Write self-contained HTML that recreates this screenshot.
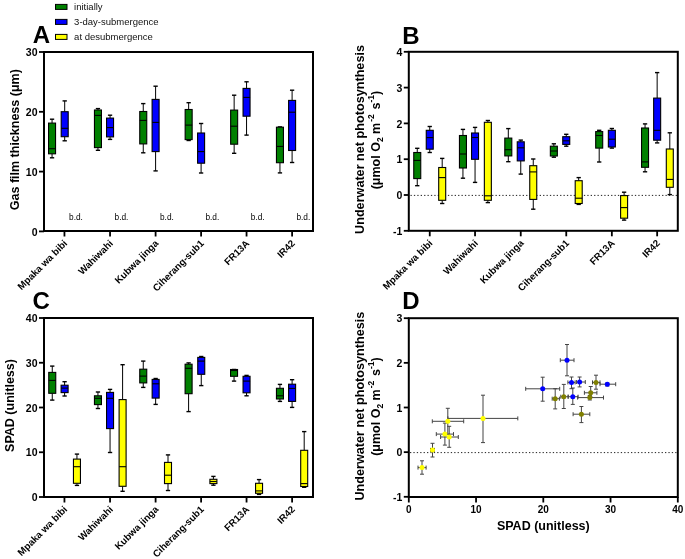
<!DOCTYPE html>
<html><head><meta charset="utf-8"><style>
html,body{margin:0;padding:0;background:#fff;}
svg{display:block;will-change:transform;}
text{font-family:"Liberation Sans", sans-serif;}
.ax{fill:none;stroke:#000;stroke-width:2;}
.tk{stroke:#000;stroke-width:1.8;}
.tl{font-size:10.5px;font-weight:bold;fill:#000;}
.xl{font-size:9.7px;font-weight:bold;fill:#000;}
.yl{font-size:12.5px;font-weight:bold;fill:#000;}
.pl{font-size:24px;font-weight:bold;fill:#000;}
.bd{font-size:8.3px;fill:#000;}
.lt{font-size:9.5px;fill:#111;}
.lg{stroke:#000;stroke-width:1;}
.wk{stroke:#000;stroke-width:1;}
.cap{stroke:#000;stroke-width:1.4;}
.bx{stroke:#000;stroke-width:1.1;}
.med{stroke:#000;stroke-width:1.1;}
.dot{stroke:#222;stroke-width:1;stroke-dasharray:1.3 2.1;}
.eb{fill:none;stroke:#444;stroke-width:1;}
.sub,.sup{font-size:8.5px;}
</style></head>
<body><svg width="685" height="559" viewBox="0 0 685 559">
<rect width="685" height="559" fill="#fff"/>
<g>
<rect x="44" y="52" width="269" height="179" class="ax"/>
<line x1="39" y1="52" x2="44" y2="52" class="tk"/>
<text x="37.5" y="56.1" class="tl" text-anchor="end">30</text>
<line x1="39" y1="111.8" x2="44" y2="111.8" class="tk"/>
<text x="37.5" y="115.9" class="tl" text-anchor="end">20</text>
<line x1="39" y1="171.6" x2="44" y2="171.6" class="tk"/>
<text x="37.5" y="175.7" class="tl" text-anchor="end">10</text>
<line x1="39" y1="231.4" x2="44" y2="231.4" class="tk"/>
<text x="37.5" y="235.5" class="tl" text-anchor="end">0</text>
<line x1="64.45" y1="231" x2="64.45" y2="236.5" class="tk"/>
<text transform="translate(67.95,244) rotate(-45)" class="xl" text-anchor="end">Mpaka wa bibi</text>
<line x1="110.05" y1="231" x2="110.05" y2="236.5" class="tk"/>
<text transform="translate(113.55,244) rotate(-45)" class="xl" text-anchor="end">Wahiwahi</text>
<line x1="155.6" y1="231" x2="155.6" y2="236.5" class="tk"/>
<text transform="translate(159.1,244) rotate(-45)" class="xl" text-anchor="end">Kubwa jinga</text>
<line x1="201.1" y1="231" x2="201.1" y2="236.5" class="tk"/>
<text transform="translate(204.6,244) rotate(-45)" class="xl" text-anchor="end">Ciherang-sub1</text>
<line x1="246.55" y1="231" x2="246.55" y2="236.5" class="tk"/>
<text transform="translate(250.05,244) rotate(-45)" class="xl" text-anchor="end">FR13A</text>
<line x1="292.1" y1="231" x2="292.1" y2="236.5" class="tk"/>
<text transform="translate(295.6,244) rotate(-45)" class="xl" text-anchor="end">IR42</text>
<line x1="52.05" y1="119.2" x2="52.05" y2="123.1" class="wk"/>
<line x1="52.05" y1="153.8" x2="52.05" y2="157.8" class="wk"/>
<line x1="49.9" y1="119.2" x2="54.2" y2="119.2" class="cap"/>
<line x1="49.9" y1="157.8" x2="54.2" y2="157.8" class="cap"/>
<rect x="48.55" y="123.1" width="7" height="30.7" fill="#008000" class="bx"/>
<line x1="48.55" y1="148.7" x2="55.55" y2="148.7" class="med"/>
<line x1="64.7" y1="100.9" x2="64.7" y2="111.7" class="wk"/>
<line x1="64.7" y1="136.7" x2="64.7" y2="140.8" class="wk"/>
<line x1="62.55" y1="100.9" x2="66.85" y2="100.9" class="cap"/>
<line x1="62.55" y1="140.8" x2="66.85" y2="140.8" class="cap"/>
<rect x="61.2" y="111.7" width="7" height="25" fill="#0000ff" class="bx"/>
<line x1="61.2" y1="128.3" x2="68.2" y2="128.3" class="med"/>
<line x1="97.95" y1="108.6" x2="97.95" y2="110" class="wk"/>
<line x1="97.95" y1="147.6" x2="97.95" y2="150.3" class="wk"/>
<line x1="95.8" y1="108.6" x2="100.1" y2="108.6" class="cap"/>
<line x1="95.8" y1="150.3" x2="100.1" y2="150.3" class="cap"/>
<rect x="94.45" y="110" width="7" height="37.6" fill="#008000" class="bx"/>
<line x1="94.45" y1="115.4" x2="101.45" y2="115.4" class="med"/>
<line x1="110.05" y1="115.2" x2="110.05" y2="118.1" class="wk"/>
<line x1="110.05" y1="136.9" x2="110.05" y2="139.4" class="wk"/>
<line x1="107.9" y1="115.2" x2="112.2" y2="115.2" class="cap"/>
<line x1="107.9" y1="139.4" x2="112.2" y2="139.4" class="cap"/>
<rect x="106.55" y="118.1" width="7" height="18.8" fill="#0000ff" class="bx"/>
<line x1="106.55" y1="127.6" x2="113.55" y2="127.6" class="med"/>
<line x1="143.25" y1="103.6" x2="143.25" y2="111.5" class="wk"/>
<line x1="143.25" y1="143.9" x2="143.25" y2="152.8" class="wk"/>
<line x1="141.1" y1="103.6" x2="145.4" y2="103.6" class="cap"/>
<line x1="141.1" y1="152.8" x2="145.4" y2="152.8" class="cap"/>
<rect x="139.75" y="111.5" width="7" height="32.4" fill="#008000" class="bx"/>
<line x1="139.75" y1="120.4" x2="146.75" y2="120.4" class="med"/>
<line x1="155.6" y1="86.2" x2="155.6" y2="99.4" class="wk"/>
<line x1="155.6" y1="151.6" x2="155.6" y2="170.9" class="wk"/>
<line x1="153.45" y1="86.2" x2="157.75" y2="86.2" class="cap"/>
<line x1="153.45" y1="170.9" x2="157.75" y2="170.9" class="cap"/>
<rect x="152.1" y="99.4" width="7" height="52.2" fill="#0000ff" class="bx"/>
<line x1="152.1" y1="122.4" x2="159.1" y2="122.4" class="med"/>
<line x1="188.65" y1="102.7" x2="188.65" y2="109.5" class="wk"/>
<line x1="188.65" y1="139.6" x2="188.65" y2="140.5" class="wk"/>
<line x1="186.5" y1="102.7" x2="190.8" y2="102.7" class="cap"/>
<line x1="186.5" y1="140.5" x2="190.8" y2="140.5" class="cap"/>
<rect x="185.15" y="109.5" width="7" height="30.1" fill="#008000" class="bx"/>
<line x1="185.15" y1="125.1" x2="192.15" y2="125.1" class="med"/>
<line x1="201.1" y1="123.5" x2="201.1" y2="133" class="wk"/>
<line x1="201.1" y1="163.2" x2="201.1" y2="173" class="wk"/>
<line x1="198.95" y1="123.5" x2="203.25" y2="123.5" class="cap"/>
<line x1="198.95" y1="173" x2="203.25" y2="173" class="cap"/>
<rect x="197.6" y="133" width="7" height="30.2" fill="#0000ff" class="bx"/>
<line x1="197.6" y1="151.6" x2="204.6" y2="151.6" class="med"/>
<line x1="234.15" y1="95.2" x2="234.15" y2="110.1" class="wk"/>
<line x1="234.15" y1="144.2" x2="234.15" y2="153.3" class="wk"/>
<line x1="232" y1="95.2" x2="236.3" y2="95.2" class="cap"/>
<line x1="232" y1="153.3" x2="236.3" y2="153.3" class="cap"/>
<rect x="230.65" y="110.1" width="7" height="34.1" fill="#008000" class="bx"/>
<line x1="230.65" y1="126.2" x2="237.65" y2="126.2" class="med"/>
<line x1="246.55" y1="81.8" x2="246.55" y2="88.4" class="wk"/>
<line x1="246.55" y1="116.2" x2="246.55" y2="135.1" class="wk"/>
<line x1="244.4" y1="81.8" x2="248.7" y2="81.8" class="cap"/>
<line x1="244.4" y1="135.1" x2="248.7" y2="135.1" class="cap"/>
<rect x="243.05" y="88.4" width="7" height="27.8" fill="#0000ff" class="bx"/>
<line x1="243.05" y1="97.4" x2="250.05" y2="97.4" class="med"/>
<line x1="279.95" y1="126.9" x2="279.95" y2="127.2" class="wk"/>
<line x1="279.95" y1="162.7" x2="279.95" y2="172.9" class="wk"/>
<line x1="277.8" y1="126.9" x2="282.1" y2="126.9" class="cap"/>
<line x1="277.8" y1="172.9" x2="282.1" y2="172.9" class="cap"/>
<rect x="276.45" y="127.2" width="7" height="35.5" fill="#008000" class="bx"/>
<line x1="276.45" y1="146.4" x2="283.45" y2="146.4" class="med"/>
<line x1="292.1" y1="90.2" x2="292.1" y2="100.4" class="wk"/>
<line x1="292.1" y1="150.5" x2="292.1" y2="162.5" class="wk"/>
<line x1="289.95" y1="90.2" x2="294.25" y2="90.2" class="cap"/>
<line x1="289.95" y1="162.5" x2="294.25" y2="162.5" class="cap"/>
<rect x="288.6" y="100.4" width="7" height="50.1" fill="#0000ff" class="bx"/>
<line x1="288.6" y1="112.2" x2="295.6" y2="112.2" class="med"/>
<text x="75.95" y="220" class="bd" text-anchor="middle">b.d.</text>
<text x="121.5" y="220" class="bd" text-anchor="middle">b.d.</text>
<text x="166.9" y="220" class="bd" text-anchor="middle">b.d.</text>
<text x="212.3" y="220" class="bd" text-anchor="middle">b.d.</text>
<text x="257.75" y="220" class="bd" text-anchor="middle">b.d.</text>
<text x="303.3" y="220" class="bd" text-anchor="middle">b.d.</text>
<text x="32.7" y="43.2" class="pl">A</text>
<text transform="translate(19.3,139.7) rotate(-90)" class="yl" text-anchor="middle">Gas film thickness (μm)</text>
</g>
<rect x="55.5" y="4.4" width="11.5" height="5" fill="#008000" class="lg"/>
<text x="74.1" y="9.8" class="lt">initially</text>
<rect x="55.5" y="19.4" width="11.5" height="5" fill="#0000ff" class="lg"/>
<text x="74.1" y="24.8" class="lt">3-day-submergence</text>
<rect x="55.5" y="34.4" width="11.5" height="5" fill="#ffff00" class="lg"/>
<text x="74.1" y="39.8" class="lt">at desubmergence</text>
<g>
<rect x="408.8" y="51.8" width="269" height="179" class="ax"/>
<line x1="403.8" y1="51.8" x2="408.8" y2="51.8" class="tk"/>
<text x="402.3" y="55.9" class="tl" text-anchor="end">4</text>
<line x1="403.8" y1="87.6" x2="408.8" y2="87.6" class="tk"/>
<text x="402.3" y="91.7" class="tl" text-anchor="end">3</text>
<line x1="403.8" y1="123.4" x2="408.8" y2="123.4" class="tk"/>
<text x="402.3" y="127.5" class="tl" text-anchor="end">2</text>
<line x1="403.8" y1="159.2" x2="408.8" y2="159.2" class="tk"/>
<text x="402.3" y="163.3" class="tl" text-anchor="end">1</text>
<line x1="403.8" y1="195" x2="408.8" y2="195" class="tk"/>
<text x="402.3" y="199.1" class="tl" text-anchor="end">0</text>
<line x1="403.8" y1="230.8" x2="408.8" y2="230.8" class="tk"/>
<text x="402.3" y="234.9" class="tl" text-anchor="end">-1</text>
<line x1="410.5" y1="195.4" x2="677" y2="195.4" class="dot"/>
<line x1="429.75" y1="230.8" x2="429.75" y2="236.3" class="tk"/>
<text transform="translate(433.25,243.8) rotate(-45)" class="xl" text-anchor="end">Mpaka wa bibi</text>
<line x1="475.05" y1="230.8" x2="475.05" y2="236.3" class="tk"/>
<text transform="translate(478.55,243.8) rotate(-45)" class="xl" text-anchor="end">Wahiwahi</text>
<line x1="520.75" y1="230.8" x2="520.75" y2="236.3" class="tk"/>
<text transform="translate(524.25,243.8) rotate(-45)" class="xl" text-anchor="end">Kubwa jinga</text>
<line x1="566.25" y1="230.8" x2="566.25" y2="236.3" class="tk"/>
<text transform="translate(569.75,243.8) rotate(-45)" class="xl" text-anchor="end">Ciherang-sub1</text>
<line x1="611.85" y1="230.8" x2="611.85" y2="236.3" class="tk"/>
<text transform="translate(615.35,243.8) rotate(-45)" class="xl" text-anchor="end">FR13A</text>
<line x1="657.15" y1="230.8" x2="657.15" y2="236.3" class="tk"/>
<text transform="translate(660.65,243.8) rotate(-45)" class="xl" text-anchor="end">IR42</text>
<line x1="417.25" y1="148.3" x2="417.25" y2="152.5" class="wk"/>
<line x1="417.25" y1="178.6" x2="417.25" y2="185.7" class="wk"/>
<line x1="415.1" y1="148.3" x2="419.4" y2="148.3" class="cap"/>
<line x1="415.1" y1="185.7" x2="419.4" y2="185.7" class="cap"/>
<rect x="413.75" y="152.5" width="7" height="26.1" fill="#008000" class="bx"/>
<line x1="413.75" y1="160.4" x2="420.75" y2="160.4" class="med"/>
<line x1="429.75" y1="126.5" x2="429.75" y2="130.3" class="wk"/>
<line x1="429.75" y1="149.2" x2="429.75" y2="152.5" class="wk"/>
<line x1="427.6" y1="126.5" x2="431.9" y2="126.5" class="cap"/>
<line x1="427.6" y1="152.5" x2="431.9" y2="152.5" class="cap"/>
<rect x="426.25" y="130.3" width="7" height="18.9" fill="#0000ff" class="bx"/>
<line x1="426.25" y1="137.6" x2="433.25" y2="137.6" class="med"/>
<line x1="442.2" y1="158.4" x2="442.2" y2="167.5" class="wk"/>
<line x1="442.2" y1="200.3" x2="442.2" y2="203.5" class="wk"/>
<line x1="440.05" y1="158.4" x2="444.35" y2="158.4" class="cap"/>
<line x1="440.05" y1="203.5" x2="444.35" y2="203.5" class="cap"/>
<rect x="438.7" y="167.5" width="7" height="32.8" fill="#ffff00" class="bx"/>
<line x1="438.7" y1="177.6" x2="445.7" y2="177.6" class="med"/>
<line x1="462.95" y1="129.4" x2="462.95" y2="135.5" class="wk"/>
<line x1="462.95" y1="168" x2="462.95" y2="178.2" class="wk"/>
<line x1="460.8" y1="129.4" x2="465.1" y2="129.4" class="cap"/>
<line x1="460.8" y1="178.2" x2="465.1" y2="178.2" class="cap"/>
<rect x="459.45" y="135.5" width="7" height="32.5" fill="#008000" class="bx"/>
<line x1="459.45" y1="154" x2="466.45" y2="154" class="med"/>
<line x1="475.05" y1="127.4" x2="475.05" y2="133" class="wk"/>
<line x1="475.05" y1="159.3" x2="475.05" y2="182.4" class="wk"/>
<line x1="472.9" y1="127.4" x2="477.2" y2="127.4" class="cap"/>
<line x1="472.9" y1="182.4" x2="477.2" y2="182.4" class="cap"/>
<rect x="471.55" y="133" width="7" height="26.3" fill="#0000ff" class="bx"/>
<line x1="471.55" y1="137.5" x2="478.55" y2="137.5" class="med"/>
<line x1="487.85" y1="120.5" x2="487.85" y2="122.3" class="wk"/>
<line x1="487.85" y1="200.3" x2="487.85" y2="202.6" class="wk"/>
<line x1="485.7" y1="120.5" x2="490" y2="120.5" class="cap"/>
<line x1="485.7" y1="202.6" x2="490" y2="202.6" class="cap"/>
<rect x="484.35" y="122.3" width="7" height="78" fill="#ffff00" class="bx"/>
<line x1="484.35" y1="195.8" x2="491.35" y2="195.8" class="med"/>
<line x1="508.3" y1="128.6" x2="508.3" y2="138.1" class="wk"/>
<line x1="508.3" y1="155.9" x2="508.3" y2="161.7" class="wk"/>
<line x1="506.15" y1="128.6" x2="510.45" y2="128.6" class="cap"/>
<line x1="506.15" y1="161.7" x2="510.45" y2="161.7" class="cap"/>
<rect x="504.8" y="138.1" width="7" height="17.8" fill="#008000" class="bx"/>
<line x1="504.8" y1="149.7" x2="511.8" y2="149.7" class="med"/>
<line x1="520.75" y1="140.1" x2="520.75" y2="141.8" class="wk"/>
<line x1="520.75" y1="160.9" x2="520.75" y2="174.1" class="wk"/>
<line x1="518.6" y1="140.1" x2="522.9" y2="140.1" class="cap"/>
<line x1="518.6" y1="174.1" x2="522.9" y2="174.1" class="cap"/>
<rect x="517.25" y="141.8" width="7" height="19.1" fill="#0000ff" class="bx"/>
<line x1="517.25" y1="147.8" x2="524.25" y2="147.8" class="med"/>
<line x1="533.25" y1="159" x2="533.25" y2="165.7" class="wk"/>
<line x1="533.25" y1="199.4" x2="533.25" y2="209.2" class="wk"/>
<line x1="531.1" y1="159" x2="535.4" y2="159" class="cap"/>
<line x1="531.1" y1="209.2" x2="535.4" y2="209.2" class="cap"/>
<rect x="529.75" y="165.7" width="7" height="33.7" fill="#ffff00" class="bx"/>
<line x1="529.75" y1="171.9" x2="536.75" y2="171.9" class="med"/>
<line x1="553.85" y1="143.8" x2="553.85" y2="146.2" class="wk"/>
<line x1="553.85" y1="156" x2="553.85" y2="157.2" class="wk"/>
<line x1="551.7" y1="143.8" x2="556" y2="143.8" class="cap"/>
<line x1="551.7" y1="157.2" x2="556" y2="157.2" class="cap"/>
<rect x="550.35" y="146.2" width="7" height="9.8" fill="#008000" class="bx"/>
<line x1="550.35" y1="151" x2="557.35" y2="151" class="med"/>
<line x1="566.25" y1="134.3" x2="566.25" y2="136.7" class="wk"/>
<line x1="566.25" y1="144.4" x2="566.25" y2="146.2" class="wk"/>
<line x1="564.1" y1="134.3" x2="568.4" y2="134.3" class="cap"/>
<line x1="564.1" y1="146.2" x2="568.4" y2="146.2" class="cap"/>
<rect x="562.75" y="136.7" width="7" height="7.7" fill="#0000ff" class="bx"/>
<line x1="562.75" y1="140.8" x2="569.75" y2="140.8" class="med"/>
<line x1="578.7" y1="177.6" x2="578.7" y2="180.7" class="wk"/>
<line x1="578.7" y1="203.5" x2="578.7" y2="204.4" class="wk"/>
<line x1="576.55" y1="177.6" x2="580.85" y2="177.6" class="cap"/>
<line x1="576.55" y1="204.4" x2="580.85" y2="204.4" class="cap"/>
<rect x="575.2" y="180.7" width="7" height="22.8" fill="#ffff00" class="bx"/>
<line x1="575.2" y1="198.2" x2="582.2" y2="198.2" class="med"/>
<line x1="599.2" y1="130.3" x2="599.2" y2="131.6" class="wk"/>
<line x1="599.2" y1="148.1" x2="599.2" y2="162" class="wk"/>
<line x1="597.05" y1="130.3" x2="601.35" y2="130.3" class="cap"/>
<line x1="597.05" y1="162" x2="601.35" y2="162" class="cap"/>
<rect x="595.7" y="131.6" width="7" height="16.5" fill="#008000" class="bx"/>
<line x1="595.7" y1="135.5" x2="602.7" y2="135.5" class="med"/>
<line x1="611.85" y1="128.5" x2="611.85" y2="130.3" class="wk"/>
<line x1="611.85" y1="147" x2="611.85" y2="148.1" class="wk"/>
<line x1="609.7" y1="128.5" x2="614" y2="128.5" class="cap"/>
<line x1="609.7" y1="148.1" x2="614" y2="148.1" class="cap"/>
<rect x="608.35" y="130.3" width="7" height="16.7" fill="#0000ff" class="bx"/>
<line x1="608.35" y1="139.2" x2="615.35" y2="139.2" class="med"/>
<line x1="624.1" y1="192.2" x2="624.1" y2="195.6" class="wk"/>
<line x1="624.1" y1="218.2" x2="624.1" y2="220.1" class="wk"/>
<line x1="621.95" y1="192.2" x2="626.25" y2="192.2" class="cap"/>
<line x1="621.95" y1="220.1" x2="626.25" y2="220.1" class="cap"/>
<rect x="620.6" y="195.6" width="7" height="22.6" fill="#ffff00" class="bx"/>
<line x1="620.6" y1="207.6" x2="627.6" y2="207.6" class="med"/>
<line x1="645.05" y1="123.9" x2="645.05" y2="128" class="wk"/>
<line x1="645.05" y1="167.3" x2="645.05" y2="171.8" class="wk"/>
<line x1="642.9" y1="123.9" x2="647.2" y2="123.9" class="cap"/>
<line x1="642.9" y1="171.8" x2="647.2" y2="171.8" class="cap"/>
<rect x="641.55" y="128" width="7" height="39.3" fill="#008000" class="bx"/>
<line x1="641.55" y1="161.9" x2="648.55" y2="161.9" class="med"/>
<line x1="657.15" y1="72.6" x2="657.15" y2="98.1" class="wk"/>
<line x1="657.15" y1="140.2" x2="657.15" y2="142.9" class="wk"/>
<line x1="655" y1="72.6" x2="659.3" y2="72.6" class="cap"/>
<line x1="655" y1="142.9" x2="659.3" y2="142.9" class="cap"/>
<rect x="653.65" y="98.1" width="7" height="42.1" fill="#0000ff" class="bx"/>
<line x1="653.65" y1="130.3" x2="660.65" y2="130.3" class="med"/>
<line x1="669.8" y1="132.8" x2="669.8" y2="149" class="wk"/>
<line x1="669.8" y1="187.3" x2="669.8" y2="194.6" class="wk"/>
<line x1="667.65" y1="132.8" x2="671.95" y2="132.8" class="cap"/>
<line x1="667.65" y1="194.6" x2="671.95" y2="194.6" class="cap"/>
<rect x="666.3" y="149" width="7" height="38.3" fill="#ffff00" class="bx"/>
<line x1="666.3" y1="179.4" x2="673.3" y2="179.4" class="med"/>
<text x="402.2" y="43.8" class="pl">B</text>
<text transform="translate(364.2,139.5) rotate(-90)" class="yl" style="font-size:12.65px" text-anchor="middle">Underwater net photosynthesis</text>
<text transform="translate(380.2,140.1) rotate(-90)" class="yl" text-anchor="middle">(μmol O<tspan class="sub" dy="2.5">2</tspan><tspan dy="-2.5"> m</tspan><tspan class="sup" dx="1" dy="-6">-2</tspan><tspan dx="1.2" dy="6"> s</tspan><tspan class="sup" dy="-6">-1</tspan><tspan dy="6">)</tspan></text>
</g>
<g>
<rect x="44" y="318" width="269" height="179" class="ax"/>
<line x1="39" y1="318" x2="44" y2="318" class="tk"/>
<text x="37.5" y="322.1" class="tl" text-anchor="end">40</text>
<line x1="39" y1="362.75" x2="44" y2="362.75" class="tk"/>
<text x="37.5" y="366.85" class="tl" text-anchor="end">30</text>
<line x1="39" y1="407.5" x2="44" y2="407.5" class="tk"/>
<text x="37.5" y="411.6" class="tl" text-anchor="end">20</text>
<line x1="39" y1="452.25" x2="44" y2="452.25" class="tk"/>
<text x="37.5" y="456.35" class="tl" text-anchor="end">10</text>
<line x1="39" y1="497" x2="44" y2="497" class="tk"/>
<text x="37.5" y="501.1" class="tl" text-anchor="end">0</text>
<line x1="64.45" y1="497" x2="64.45" y2="502.5" class="tk"/>
<text transform="translate(67.95,510) rotate(-45)" class="xl" text-anchor="end">Mpaka wa bibi</text>
<line x1="110.05" y1="497" x2="110.05" y2="502.5" class="tk"/>
<text transform="translate(113.55,510) rotate(-45)" class="xl" text-anchor="end">Wahiwahi</text>
<line x1="155.6" y1="497" x2="155.6" y2="502.5" class="tk"/>
<text transform="translate(159.1,510) rotate(-45)" class="xl" text-anchor="end">Kubwa jinga</text>
<line x1="201.1" y1="497" x2="201.1" y2="502.5" class="tk"/>
<text transform="translate(204.6,510) rotate(-45)" class="xl" text-anchor="end">Ciherang-sub1</text>
<line x1="246.55" y1="497" x2="246.55" y2="502.5" class="tk"/>
<text transform="translate(250.05,510) rotate(-45)" class="xl" text-anchor="end">FR13A</text>
<line x1="292.1" y1="497" x2="292.1" y2="502.5" class="tk"/>
<text transform="translate(295.6,510) rotate(-45)" class="xl" text-anchor="end">IR42</text>
<line x1="52.25" y1="366.1" x2="52.25" y2="372.4" class="wk"/>
<line x1="52.25" y1="393.3" x2="52.25" y2="400.1" class="wk"/>
<line x1="50.1" y1="366.1" x2="54.4" y2="366.1" class="cap"/>
<line x1="50.1" y1="400.1" x2="54.4" y2="400.1" class="cap"/>
<rect x="48.75" y="372.4" width="7" height="20.9" fill="#008000" class="bx"/>
<line x1="48.75" y1="380.4" x2="55.75" y2="380.4" class="med"/>
<line x1="64.6" y1="381.7" x2="64.6" y2="385.2" class="wk"/>
<line x1="64.6" y1="392.6" x2="64.6" y2="396" class="wk"/>
<line x1="62.45" y1="381.7" x2="66.75" y2="381.7" class="cap"/>
<line x1="62.45" y1="396" x2="66.75" y2="396" class="cap"/>
<rect x="61.1" y="385.2" width="7" height="7.4" fill="#0000ff" class="bx"/>
<line x1="61.1" y1="388.1" x2="68.1" y2="388.1" class="med"/>
<line x1="76.95" y1="454.1" x2="76.95" y2="459.1" class="wk"/>
<line x1="76.95" y1="483.3" x2="76.95" y2="485.4" class="wk"/>
<line x1="74.8" y1="454.1" x2="79.1" y2="454.1" class="cap"/>
<line x1="74.8" y1="485.4" x2="79.1" y2="485.4" class="cap"/>
<rect x="73.45" y="459.1" width="7" height="24.2" fill="#ffff00" class="bx"/>
<line x1="73.45" y1="466.7" x2="80.45" y2="466.7" class="med"/>
<line x1="97.95" y1="392" x2="97.95" y2="395.8" class="wk"/>
<line x1="97.95" y1="404.6" x2="97.95" y2="408.5" class="wk"/>
<line x1="95.8" y1="392" x2="100.1" y2="392" class="cap"/>
<line x1="95.8" y1="408.5" x2="100.1" y2="408.5" class="cap"/>
<rect x="94.45" y="395.8" width="7" height="8.8" fill="#008000" class="bx"/>
<line x1="94.45" y1="398.3" x2="101.45" y2="398.3" class="med"/>
<line x1="110.05" y1="389.4" x2="110.05" y2="392.4" class="wk"/>
<line x1="110.05" y1="428.6" x2="110.05" y2="452.5" class="wk"/>
<line x1="107.9" y1="389.4" x2="112.2" y2="389.4" class="cap"/>
<line x1="107.9" y1="452.5" x2="112.2" y2="452.5" class="cap"/>
<rect x="106.55" y="392.4" width="7" height="36.2" fill="#0000ff" class="bx"/>
<line x1="106.55" y1="398.3" x2="113.55" y2="398.3" class="med"/>
<line x1="122.6" y1="364.7" x2="122.6" y2="399.6" class="wk"/>
<line x1="122.6" y1="486.3" x2="122.6" y2="491.3" class="wk"/>
<line x1="120.45" y1="364.7" x2="124.75" y2="364.7" class="cap"/>
<line x1="120.45" y1="491.3" x2="124.75" y2="491.3" class="cap"/>
<rect x="119.1" y="399.6" width="7" height="86.7" fill="#ffff00" class="bx"/>
<line x1="119.1" y1="466.7" x2="126.1" y2="466.7" class="med"/>
<line x1="143.25" y1="361.1" x2="143.25" y2="369.2" class="wk"/>
<line x1="143.25" y1="382.9" x2="143.25" y2="387.4" class="wk"/>
<line x1="141.1" y1="361.1" x2="145.4" y2="361.1" class="cap"/>
<line x1="141.1" y1="387.4" x2="145.4" y2="387.4" class="cap"/>
<rect x="139.75" y="369.2" width="7" height="13.7" fill="#008000" class="bx"/>
<line x1="139.75" y1="376.1" x2="146.75" y2="376.1" class="med"/>
<line x1="155.65" y1="378.5" x2="155.65" y2="379.4" class="wk"/>
<line x1="155.65" y1="398.1" x2="155.65" y2="404.4" class="wk"/>
<line x1="153.5" y1="378.5" x2="157.8" y2="378.5" class="cap"/>
<line x1="153.5" y1="404.4" x2="157.8" y2="404.4" class="cap"/>
<rect x="152.15" y="379.4" width="7" height="18.7" fill="#0000ff" class="bx"/>
<line x1="152.15" y1="383.8" x2="159.15" y2="383.8" class="med"/>
<line x1="168" y1="454.9" x2="168" y2="462.4" class="wk"/>
<line x1="168" y1="483.6" x2="168" y2="490.5" class="wk"/>
<line x1="165.85" y1="454.9" x2="170.15" y2="454.9" class="cap"/>
<line x1="165.85" y1="490.5" x2="170.15" y2="490.5" class="cap"/>
<rect x="164.5" y="462.4" width="7" height="21.2" fill="#ffff00" class="bx"/>
<line x1="164.5" y1="475.2" x2="171.5" y2="475.2" class="med"/>
<line x1="188.6" y1="362.9" x2="188.6" y2="364.2" class="wk"/>
<line x1="188.6" y1="393.7" x2="188.6" y2="411.6" class="wk"/>
<line x1="186.45" y1="362.9" x2="190.75" y2="362.9" class="cap"/>
<line x1="186.45" y1="411.6" x2="190.75" y2="411.6" class="cap"/>
<rect x="185.1" y="364.2" width="7" height="29.5" fill="#008000" class="bx"/>
<line x1="185.1" y1="368.3" x2="192.1" y2="368.3" class="med"/>
<line x1="201.25" y1="356.5" x2="201.25" y2="357.4" class="wk"/>
<line x1="201.25" y1="374.3" x2="201.25" y2="385.6" class="wk"/>
<line x1="199.1" y1="356.5" x2="203.4" y2="356.5" class="cap"/>
<line x1="199.1" y1="385.6" x2="203.4" y2="385.6" class="cap"/>
<rect x="197.75" y="357.4" width="7" height="16.9" fill="#0000ff" class="bx"/>
<line x1="197.75" y1="361.1" x2="204.75" y2="361.1" class="med"/>
<line x1="213.4" y1="476.4" x2="213.4" y2="479.3" class="wk"/>
<line x1="213.4" y1="483.6" x2="213.4" y2="485.2" class="wk"/>
<line x1="211.25" y1="476.4" x2="215.55" y2="476.4" class="cap"/>
<line x1="211.25" y1="485.2" x2="215.55" y2="485.2" class="cap"/>
<rect x="209.9" y="479.3" width="7" height="4.3" fill="#ffff00" class="bx"/>
<line x1="209.9" y1="481.5" x2="216.9" y2="481.5" class="med"/>
<line x1="234.05" y1="369.5" x2="234.05" y2="369.5" class="wk"/>
<line x1="234.05" y1="376.3" x2="234.05" y2="381.1" class="wk"/>
<line x1="231.9" y1="369.5" x2="236.2" y2="369.5" class="cap"/>
<line x1="231.9" y1="381.1" x2="236.2" y2="381.1" class="cap"/>
<rect x="230.55" y="369.5" width="7" height="6.8" fill="#008000" class="bx"/>
<line x1="230.55" y1="370.5" x2="237.55" y2="370.5" class="med"/>
<line x1="246.55" y1="375.4" x2="246.55" y2="376.3" class="wk"/>
<line x1="246.55" y1="392.8" x2="246.55" y2="395.8" class="wk"/>
<line x1="244.4" y1="375.4" x2="248.7" y2="375.4" class="cap"/>
<line x1="244.4" y1="395.8" x2="248.7" y2="395.8" class="cap"/>
<rect x="243.05" y="376.3" width="7" height="16.5" fill="#0000ff" class="bx"/>
<line x1="243.05" y1="381.1" x2="250.05" y2="381.1" class="med"/>
<line x1="259.05" y1="479.6" x2="259.05" y2="483.3" class="wk"/>
<line x1="259.05" y1="493.3" x2="259.05" y2="494.4" class="wk"/>
<line x1="256.9" y1="479.6" x2="261.2" y2="479.6" class="cap"/>
<line x1="256.9" y1="494.4" x2="261.2" y2="494.4" class="cap"/>
<rect x="255.55" y="483.3" width="7" height="10" fill="#ffff00" class="bx"/>
<line x1="255.55" y1="490.9" x2="262.55" y2="490.9" class="med"/>
<line x1="279.95" y1="384.4" x2="279.95" y2="388.3" class="wk"/>
<line x1="279.95" y1="399" x2="279.95" y2="401.4" class="wk"/>
<line x1="277.8" y1="384.4" x2="282.1" y2="384.4" class="cap"/>
<line x1="277.8" y1="401.4" x2="282.1" y2="401.4" class="cap"/>
<rect x="276.45" y="388.3" width="7" height="10.7" fill="#008000" class="bx"/>
<line x1="276.45" y1="395.8" x2="283.45" y2="395.8" class="med"/>
<line x1="292.1" y1="379.7" x2="292.1" y2="384.2" class="wk"/>
<line x1="292.1" y1="401.4" x2="292.1" y2="407.4" class="wk"/>
<line x1="289.95" y1="379.7" x2="294.25" y2="379.7" class="cap"/>
<line x1="289.95" y1="407.4" x2="294.25" y2="407.4" class="cap"/>
<rect x="288.6" y="384.2" width="7" height="17.2" fill="#0000ff" class="bx"/>
<line x1="288.6" y1="388.4" x2="295.6" y2="388.4" class="med"/>
<line x1="304.2" y1="431.6" x2="304.2" y2="450.3" class="wk"/>
<line x1="304.2" y1="486.5" x2="304.2" y2="487.3" class="wk"/>
<line x1="302.05" y1="431.6" x2="306.35" y2="431.6" class="cap"/>
<line x1="302.05" y1="487.3" x2="306.35" y2="487.3" class="cap"/>
<rect x="300.7" y="450.3" width="7" height="36.2" fill="#ffff00" class="bx"/>
<line x1="300.7" y1="483.6" x2="307.7" y2="483.6" class="med"/>
<text x="32.5" y="309" class="pl">C</text>
<text transform="translate(13.6,405.5) rotate(-90)" class="yl" text-anchor="middle">SPAD (unitless)</text>
</g>
<g>
<rect x="408.8" y="318.2" width="269" height="178.8" class="ax"/>
<line x1="403.8" y1="318.2" x2="408.8" y2="318.2" class="tk"/>
<text x="402.3" y="322.3" class="tl" text-anchor="end">3</text>
<line x1="403.8" y1="362.85" x2="408.8" y2="362.85" class="tk"/>
<text x="402.3" y="366.95" class="tl" text-anchor="end">2</text>
<line x1="403.8" y1="407.5" x2="408.8" y2="407.5" class="tk"/>
<text x="402.3" y="411.6" class="tl" text-anchor="end">1</text>
<line x1="403.8" y1="452.15" x2="408.8" y2="452.15" class="tk"/>
<text x="402.3" y="456.25" class="tl" text-anchor="end">0</text>
<line x1="403.8" y1="496.8" x2="408.8" y2="496.8" class="tk"/>
<text x="402.3" y="500.9" class="tl" text-anchor="end">-1</text>
<line x1="408.8" y1="497" x2="408.8" y2="502.5" class="tk"/>
<text x="408.8" y="513" class="tl" style="font-size:10px" text-anchor="middle">0</text>
<line x1="476.05" y1="497" x2="476.05" y2="502.5" class="tk"/>
<text x="476.05" y="513" class="tl" style="font-size:10px" text-anchor="middle">10</text>
<line x1="543.3" y1="497" x2="543.3" y2="502.5" class="tk"/>
<text x="543.3" y="513" class="tl" style="font-size:10px" text-anchor="middle">20</text>
<line x1="610.55" y1="497" x2="610.55" y2="502.5" class="tk"/>
<text x="610.55" y="513" class="tl" style="font-size:10px" text-anchor="middle">30</text>
<line x1="677.8" y1="497" x2="677.8" y2="502.5" class="tk"/>
<text x="677.8" y="513" class="tl" style="font-size:10px" text-anchor="middle">40</text>
<line x1="410" y1="452.6" x2="677" y2="452.6" class="dot"/>
<path d="M418 467.6H426.1M422 460.8V474.2M418 465.6V469.6M426.1 465.6V469.6M420 460.8H424M420 474.2H424" class="eb"/>
<path d="M430.5 449.9H434.5M432.5 443.3V457M430.5 447.9V451.9M434.5 447.9V451.9M430.5 443.3H434.5M430.5 457H434.5" class="eb"/>
<path d="M436.3 434.1H453.5M444.9 423.1V445.1M436.3 432.1V436.1M453.5 432.1V436.1M442.9 423.1H446.9M442.9 445.1H446.9" class="eb"/>
<path d="M440.6 437H458.3M449.2 426.3V447.3M440.6 435V439M458.3 435V439M447.2 426.3H451.2M447.2 447.3H451.2" class="eb"/>
<path d="M432.3 421.3H463.7M447.8 408.3V434.3M432.3 419.3V423.3M463.7 419.3V423.3M445.8 408.3H449.8M445.8 434.3H449.8" class="eb"/>
<path d="M447.9 418.4H517.8M483 395.2V442.6M447.9 416.4V420.4M517.8 416.4V420.4M481 395.2H485M481 442.6H485" class="eb"/>
<path d="M525.7 388.8H559.7M542.7 377.2V401.2M525.7 386.8V390.8M559.7 386.8V390.8M540.7 377.2H544.7M540.7 401.2H544.7" class="eb"/>
<path d="M560.3 360.2H574M567 344.5V375.8M560.3 358.2V362.2M574 358.2V362.2M565 344.5H569M565 375.8H569" class="eb"/>
<path d="M567.9 382.4H575.1M571.5 377V388.7M567.9 380.4V384.4M575.1 380.4V384.4M569.5 377H573.5M569.5 388.7H573.5" class="eb"/>
<path d="M576.4 382H585.3M579.6 377V386.9M576.4 380V384M585.3 380V384M577.6 377H581.6M577.6 386.9H581.6" class="eb"/>
<path d="M568.3 396.7H578.1M572.8 388V404.4M568.3 394.7V398.7M578.1 394.7V398.7M570.8 388H574.8M570.8 404.4H574.8" class="eb"/>
<path d="M600 384.2H615.7M607.3 383V386M600 382.2V386.2M615.7 382.2V386.2M605.3 383H609.3M605.3 386H609.3" class="eb"/>
<path d="M552.2 398.7H559.4M555.2 388.7V408.9M552.2 396.7V400.7M559.4 396.7V400.7M553.2 388.7H557.2M553.2 408.9H557.2" class="eb"/>
<path d="M560.8 396.7H568M563.8 384.4V408.5M560.8 394.7V398.7M568 394.7V398.7M561.8 384.4H565.8M561.8 408.5H565.8" class="eb"/>
<path d="M592.5 382.4H600M596 375.2V389.2M592.5 380.4V384.4M600 380.4V384.4M594 375.2H598M594 389.2H598" class="eb"/>
<path d="M584.4 392.8H596.9M590.7 386.5V397.2M584.4 390.8V394.8M596.9 390.8V394.8M588.7 386.5H592.7M588.7 397.2H592.7" class="eb"/>
<path d="M577.6 397.6H603.5M589.8 395.5V400M577.6 395.6V399.6M603.5 395.6V399.6M587.8 395.5H591.8M587.8 400H591.8" class="eb"/>
<path d="M573.1 414.2H589.8M581.4 406.5V422.6M573.1 412.2V416.2M589.8 412.2V416.2M579.4 406.5H583.4M579.4 422.6H583.4" class="eb"/>
<circle cx="422" cy="467.6" r="2.5" fill="#ffff00"/>
<circle cx="432.5" cy="449.9" r="2.5" fill="#ffff00"/>
<circle cx="444.9" cy="434.1" r="2.5" fill="#ffff00"/>
<circle cx="449.2" cy="437" r="2.5" fill="#ffff00"/>
<circle cx="447.8" cy="421.3" r="2.5" fill="#ffff00"/>
<circle cx="483" cy="418.4" r="2.5" fill="#ffff00"/>
<circle cx="542.7" cy="388.8" r="2.5" fill="#0000ff"/>
<circle cx="567" cy="360.2" r="2.5" fill="#0000ff"/>
<circle cx="571.5" cy="382.4" r="2.5" fill="#0000ff"/>
<circle cx="579.6" cy="382" r="2.5" fill="#0000ff"/>
<circle cx="572.8" cy="396.7" r="2.5" fill="#0000ff"/>
<circle cx="607.3" cy="384.2" r="2.5" fill="#0000ff"/>
<circle cx="555.2" cy="398.7" r="2.5" fill="#808000"/>
<circle cx="563.8" cy="396.7" r="2.5" fill="#808000"/>
<circle cx="596" cy="382.4" r="2.5" fill="#808000"/>
<circle cx="590.7" cy="392.8" r="2.5" fill="#808000"/>
<circle cx="589.8" cy="397.6" r="2.5" fill="#808000"/>
<circle cx="581.4" cy="414.2" r="2.5" fill="#808000"/>
<text x="402.2" y="309" class="pl">D</text>
<text transform="translate(364.2,406.1) rotate(-90)" class="yl" style="font-size:12.65px" text-anchor="middle">Underwater net photosynthesis</text>
<text transform="translate(380.2,406.6) rotate(-90)" class="yl" text-anchor="middle">(μmol O<tspan class="sub" dy="2.5">2</tspan><tspan dy="-2.5"> m</tspan><tspan class="sup" dx="1" dy="-6">-2</tspan><tspan dx="1.2" dy="6"> s</tspan><tspan class="sup" dy="-6">-1</tspan><tspan dy="6">)</tspan></text>
<text x="543.3" y="530.2" class="yl" text-anchor="middle">SPAD (unitless)</text>
</g>
</svg></body></html>
